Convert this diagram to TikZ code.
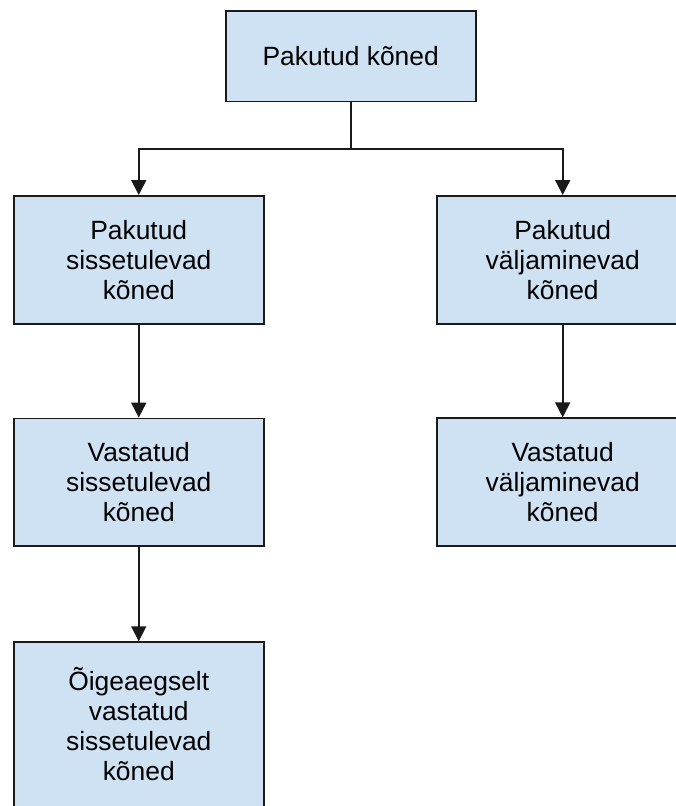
\documentclass[tikz,border=0pt]{standalone}
\usepackage{fontspec}
\setmainfont{Liberation Sans}
\usetikzlibrary{arrows.meta}
\definecolor{boxfill}{RGB}{207,226,243}
\definecolor{boxline}{RGB}{26,26,26}
\tikzset{
  box/.style={draw=boxline, fill=boxfill, line width=1.8pt, minimum width=250pt, inner sep=0pt, align=center, font=\fontsize{26.4}{30}\selectfont},
  txt/.style={align=center, inner sep=0pt, font=\fontsize{26.4}{30}\selectfont},
  arr/.style={draw=boxline, line width=1.8pt, -{Triangle[length=15pt,width=15pt]}},
  ln/.style={draw=boxline, line width=1.8pt}
}
\begin{document}
\begin{tikzpicture}[x=1pt,y=-1pt]
\useasboundingbox (0,0) rectangle (676,806);
\clip (0,0) rectangle (676,806);
\fill[white] (0,0) rectangle (676,806);
\node[box, minimum height=90.5pt] (top) at (350.7,56.25) {Pakutud kõned};
\node[box, minimum height=128pt] (l1) at (138.75,259.9) {Pakutud\\sissetulevad\\kõned};
\node[box, minimum height=127.5pt] (l2) at (138.75,482.3) {Vastatud\\sissetulevad\\kõned};
\node[box, minimum height=190pt, anchor=north] (l3) at (138.75,641.3) {};
\node[txt] (l3t) at (138.75,724) {Õigeaegselt\\vastatud\\sissetulevad\\kõned};
\node[box, minimum width=251pt, minimum height=128pt] (r1) at (562.7,259.9) {Pakutud\\väljaminevad\\kõned};
\node[box, minimum width=251pt, minimum height=127.5pt] (r2) at (562.7,482.0) {Vastatud\\väljaminevad\\kõned};
\coordinate (j) at (350.7,149);
\draw[ln] (top.south) -- (j);
\draw[arr] (j) -| (l1.north);
\draw[arr] (j) -| (r1.north);
\draw[arr] (l1.south) -- (l2.north);
\draw[arr] (l2.south) -- (l3.north);
\draw[arr] (r1.south) -- (r2.north);
\end{tikzpicture}
\end{document}
